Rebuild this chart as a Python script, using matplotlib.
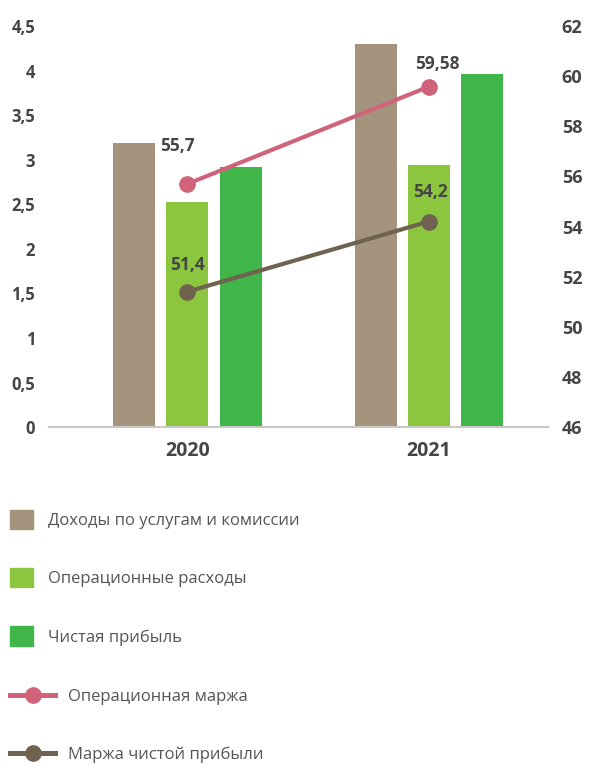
import numpy as np
import matplotlib
matplotlib.use('Agg')
import matplotlib.pyplot as plt
from matplotlib.patches import Patch
from matplotlib.lines import Line2D

# Data
years = ['2020', '2021']
feeIncome = [3.19, 4.30]       # Доходы по услугам и комиссии
opExpenses = [2.52, 2.94]      # Операционные расходы
netProfit = [2.92, 3.96]       # Чистая прибыль
opMargin = [55.7, 59.58]       # Операционная маржа
netMargin = [51.4, 54.2]       # Маржа чистой прибыли
opMarginLabels = ['55,7', '59,58']
netMarginLabels = ['51,4', '54,2']
leftTicks = [0, 0.5, 1, 1.5, 2, 2.5, 3, 3.5, 4, 4.5]
leftTickLabels = ['0', '0,5', '1', '1,5', '2', '2,5', '3', '3,5', '4', '4,5']
rightTicks = [46, 48, 50, 52, 54, 56, 58, 60, 62]

barColors = ['#a5947d', '#8cc63f', '#40b54a']
pink = '#d0627a'
darkBrown = '#6f624f'
textColor = '#454545'

plt.rcParams['font.family'] = ['Open Sans', 'DejaVu Sans']

fig = plt.figure(figsize=(5.91, 7.64), dpi=100)
ax = fig.add_axes([0.083, 0.441, 0.844, 0.525])

x = np.arange(len(years))
w = 0.174
step = 0.22
ax.bar(x - step, feeIncome, w, color=barColors[0])
ax.bar(x, opExpenses, w, color=barColors[1])
ax.bar(x + step, netProfit, w, color=barColors[2])

ax.set_xlim(-0.573, 1.493)
ax.set_ylim(0, 4.5)
ax.set_yticks(leftTicks)
ax.set_yticklabels(leftTickLabels)
ax.set_xticks(x)
ax.set_xticklabels(years)
ax.tick_params(axis='y', length=0, pad=10, labelsize=12, labelcolor=textColor)
ax.tick_params(axis='x', length=0, pad=10, labelsize=14, labelcolor=textColor)
for lab in ax.get_yticklabels() + ax.get_xticklabels():
    lab.set_fontweight('bold')
for s in ['top', 'left', 'right']:
    ax.spines[s].set_visible(False)
ax.spines['bottom'].set_color('#c8c8c8')
ax.spines['bottom'].set_linewidth(1.5)

ax2 = ax.twinx()
ax2.set_ylim(46, 62)
ax2.set_yticks(rightTicks)
ax2.tick_params(axis='y', length=0, pad=10, labelsize=13, labelcolor=textColor)
for lab in ax2.get_yticklabels():
    lab.set_fontweight('bold')
for s in ['top', 'left', 'right', 'bottom']:
    ax2.spines[s].set_visible(False)

ax2.plot(x, opMargin, color=pink, lw=3, marker='o', ms=11, solid_capstyle='round')
ax2.plot(x, netMargin, color=darkBrown, lw=3, marker='o', ms=11, solid_capstyle='round')

# value labels
lbl = dict(textcoords='offset points', ha='center', va='center',
           fontsize=12.5, fontweight='bold', color=textColor)
ax2.annotate(opMarginLabels[0], (x[0], opMargin[0]), xytext=(-7, 27), **lbl)
ax2.annotate(opMarginLabels[1], (x[1], opMargin[1]), xytext=(6, 16), **lbl)
ax2.annotate(netMarginLabels[0], (x[0], netMargin[0]), xytext=(0, 19), **lbl)
ax2.annotate(netMarginLabels[1], (x[1], netMargin[1]), xytext=(1, 21), **lbl)

# legends
barHandles = [Patch(color=c) for c in barColors]
barNames = ['Доходы по услугам и комиссии', 'Операционные расходы', 'Чистая прибыль']
leg1 = fig.legend(barHandles, barNames, loc='upper left', bbox_to_anchor=(0.017, 0.332),
                  frameon=False, fontsize=12, handlelength=1.38, handleheight=1.38,
                  handletextpad=0.9, labelspacing=2.34, borderpad=0, borderaxespad=0,
                  labelcolor='#555555')
lineHandles = [Line2D([], [], color=pink, lw=3.6, marker='o', ms=11),
               Line2D([], [], color=darkBrown, lw=3.6, marker='o', ms=11)]
lineNames = ['Операционная маржа', 'Маржа чистой прибыли']
leg2 = fig.legend(lineHandles, lineNames, loc='upper left', bbox_to_anchor=(0.017, 0.0985),
                  frameon=False, fontsize=12, handlelength=2.7, handletextpad=0.78,
                  labelspacing=2.52, borderpad=0, borderaxespad=0, labelcolor='#555555')

fig.savefig('out.png', dpi=100)
